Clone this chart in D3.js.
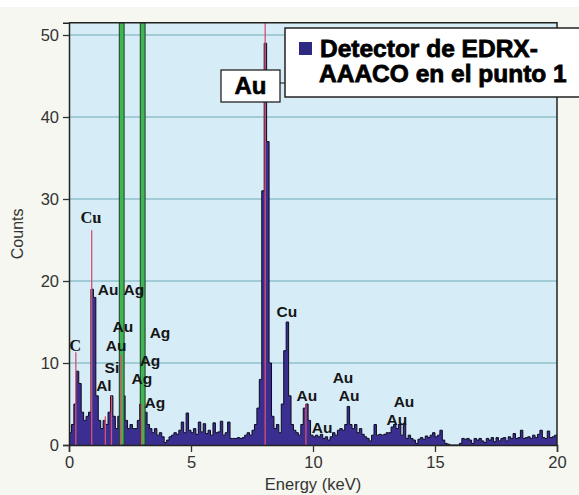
<!DOCTYPE html>
<html><head><meta charset="utf-8">
<script src="https://cdn.jsdelivr.net/npm/d3@7"></script>
<style>
html,body{margin:0;padding:0;background:#f5f7f0;}
svg{display:block;}
</style></head>
<body>
<script>
// ---- data ----
const binWidth = 0.1; // keV
const binStart = 0;
const counts = [
 1.5,2.5,5,9,7.5,4,3,3.5,4,19,
 18,6,3,2,3,2.5,4,6,3.5,2,
 3.5,11,6,3,2,2.5,2,2,3,5,
 5,4,2.5,2,1.5,2,1.2,1.5,1,0.3,
 0.6,1,1.2,1.5,1.3,1.8,2.8,1.5,3.9,1.8,
 1.5,2,1.3,2.8,1.6,2.6,1.4,1.8,1.2,2.7,
 1.5,1.6,2.9,1.2,1.5,2.8,0.8,0.8,0.8,0.9,
 0.8,0.9,1.2,1.5,1.2,1.8,2.5,4.5,8,31,
 49,37,10,3.5,2,2.5,1.5,5,11.5,15,
 6,2.5,1.8,1.5,1.2,2.5,4.5,5,3,1.2,
 1,1.2,1,1.3,0.8,1,0.6,1,1.5,1.2,
 1.8,2,1.8,2.5,4.7,2.5,2,2.5,1.5,2,
 1.3,1,0.8,0.5,1.2,2.5,1.2,1.3,1.2,1.3,
 1.5,1.5,2.2,2.5,2,2.5,1.2,2.6,0.8,1.2,
 0.8,0.6,0.2,0.7,0.9,0.7,1.1,0.9,1.2,1.5,
 1,1.2,1.8,0.6,0.2,0.1,0,0,0,0,
 0.2,0.8,0.7,0.8,0.6,0.2,0.8,0.6,0.8,0.5,
 0.3,0.8,0.6,0.9,0.4,0.9,0.5,0.8,0.9,0.5,
 1,0.8,1.4,0.8,0.9,1.8,0.8,0.9,1,0.8,
 1.2,0.9,1.3,1.8,0.9,0.8,1.7,0.9,1,1.2
];
const xTicks = [0,5,10,15,20];
const yTicks = [0,10,20,30,40,50];
const xDomain = [0,20];
const yDomain = [0,51.5];
const xTitle = "Energy (keV)";
const yTitle = "Counts";
// element marker lines: energy, height (counts)
const markerE = [0.28,0.93,1.49,1.74,2.12,2.98,8.04,9.71];
const markerH = [11.3,26.2,3.5,6,11,5,51.5,5];
// green highlight lines (keV)
const greenE = [2.16,3.02];
// peak labels
const labelText  = ["Cu","C","Au","Ag","Au","Ag","Au","Ag","Si","Ag","Al","Ag","Cu","Au","Au","Au","Au","Au","Au"];
const labelE     = [0.90,0.25,1.60,2.66,2.21,3.73,1.93,3.32,1.76,2.99,1.43,3.52,8.93,9.75,10.37,11.23,11.48,13.73,13.44];
const labelC     = [27.1,11.5,18.3,18.3,13.8,13.0,11.5,9.6,8.8,7.4,6.6,4.5,15.6,5.4,1.5,7.6,5.4,4.6,2.4];
const labelSerif = [true,true,false,false,false,false,false,false,false,false,false,false,false,false,false,false,false,false,false];
const legendLines = ["Detector de EDRX-","AAACO en el punto 1"];
const calloutText = "Au";

// ---- chart ----
const W = 579, H = 495;
const m = {left:69, right:22, top:22.7, bottom:50};
const svg = d3.select("body").append("svg").attr("width",W).attr("height",H);
svg.append("rect").attr("width",W).attr("height",H).attr("fill","#f5f7f0");
svg.append("rect").attr("width",W).attr("height",7).attr("fill","#ffffff");

const x = d3.scaleLinear().domain(xDomain).range([m.left, W-m.right]);
const y = d3.scaleLinear().domain(yDomain).range([H-m.bottom, m.top]);

// plot bg
svg.append("rect").attr("x",x(0)).attr("y",y(yDomain[1]))
  .attr("width",x(20)-x(0)).attr("height",y(0)-y(yDomain[1]))
  .attr("fill","#d6ecf7");

// grid
svg.append("g").selectAll("line").data(yTicks.filter(d=>d>0)).join("line")
  .attr("x1",x(0)).attr("x2",x(20)).attr("y1",d=>y(d)).attr("y2",d=>y(d))
  .attr("stroke","#8fc0cb").attr("stroke-width",1.5);

// spectrum
const pts = counts.map((c,i)=>({e:binStart+i*binWidth, c}));
pts.push({e:binStart+counts.length*binWidth, c:counts[counts.length-1]});
const area = d3.area().curve(d3.curveStepAfter).x(d=>x(d.e)).y0(y(0)).y1(d=>y(d.c));
const line = d3.line().curve(d3.curveStepAfter).x(d=>x(d.e)).y(d=>y(d.c));
svg.append("path").datum(pts).attr("d",area).attr("fill","#3a2f91");
svg.append("path").datum(pts).attr("d",line).attr("fill","none").attr("stroke","#0c0b1e").attr("stroke-width",1);

// green lines
svg.append("g").selectAll("rect").data(greenE).join("rect")
  .attr("x",d=>x(d)-2.4).attr("width",4.8)
  .attr("y",y(yDomain[1])).attr("height",y(0)-y(yDomain[1]))
  .attr("fill","#3fb653").attr("stroke","#1c3f22").attr("stroke-width",1);

// red marker lines
svg.append("g").selectAll("line").data(markerE).join("line")
  .attr("x1",d=>x(d)).attr("x2",d=>x(d))
  .attr("y1",y(0)).attr("y2",(d,i)=>y(markerH[i]))
  .attr("stroke","#dc4f6c").attr("stroke-width",1.3);

// frame
svg.append("path")
  .attr("d",`M${x(0)},${y(yDomain[1])}H${x(20)}V${y(0)}`)
  .attr("fill","none").attr("stroke","#222").attr("stroke-width",1.5);

// axes
const fontAxis = "'Liberation Sans', Arial, sans-serif";
const gx = svg.append("g").attr("transform",`translate(0,${y(0)})`)
  .call(d3.axisBottom(x).tickValues(xTicks).tickSize(7).tickPadding(4));
const gy = svg.append("g").attr("transform",`translate(${x(0)},0)`)
  .call(d3.axisLeft(y).tickValues(yTicks).tickSize(6).tickPadding(4));
[gx,gy].forEach(g=>{
  g.select(".domain").attr("stroke","#222").attr("stroke-width",1.5);
  g.selectAll(".tick line").attr("stroke","#333").attr("stroke-width",1.3);
  g.selectAll(".tick text").attr("fill","#333").style("font-family",fontAxis).style("font-size","16.5px");
});
svg.append("text").attr("x",(x(0)+x(20))/2).attr("y",H-5)
  .attr("text-anchor","middle").attr("fill","#333")
  .style("font-family",fontAxis).style("font-size","16.5px").text(xTitle);
svg.append("text").attr("transform",`translate(23,${(y(0)+y(yDomain[1]))/2}) rotate(-90)`)
  .attr("text-anchor","middle").attr("fill","#333")
  .style("font-family",fontAxis).style("font-size","16px").text(yTitle);

// peak labels
svg.append("g").selectAll("text").data(labelText).join("text")
  .attr("x",(d,i)=>x(labelE[i])).attr("y",(d,i)=>y(labelC[i]))
  .attr("text-anchor","middle").attr("fill","#151515")
  .style("font-family",(d,i)=>labelSerif[i]?"'Liberation Serif', serif":fontAxis)
  .style("font-weight","bold")
  .style("font-size",(d,i)=>labelSerif[i]?"16.5px":"15.5px")
  .text(d=>d);

// callout "Au"
svg.append("line").attr("x1",280).attr("x2",286).attr("y1",83).attr("y2",83).attr("stroke","#555").attr("stroke-width",1.5);
svg.append("rect").attr("x",221).attr("y",70).attr("width",59).attr("height",32)
  .attr("fill","#fff").attr("stroke","#222").attr("stroke-width",1.3);
svg.append("text").attr("x",250.5).attr("y",94).attr("text-anchor","middle")
  .style("font-family",fontAxis).style("font-weight","bold").style("font-size","24px")
  .attr("fill","#000").attr("stroke","#000").attr("stroke-width",0.6).text(calloutText);

// legend box
svg.append("rect").attr("x",285).attr("y",28).attr("width",300).attr("height",69)
  .attr("fill","#fff").attr("stroke","#222").attr("stroke-width",1.5);
svg.append("rect").attr("x",299).attr("y",42).attr("width",13).attr("height",13).attr("fill","#2e2a82");
svg.append("g").selectAll("text").data(legendLines).join("text")
  .attr("x",(d,i)=>i===0?320:319).attr("y",(d,i)=>57+i*25)
  .style("font-family",fontAxis).style("font-weight","bold").style("font-size","24.5px")
  .attr("fill","#000").attr("stroke","#000").attr("stroke-width",0.8).text(d=>d);
</script>
</body></html>
